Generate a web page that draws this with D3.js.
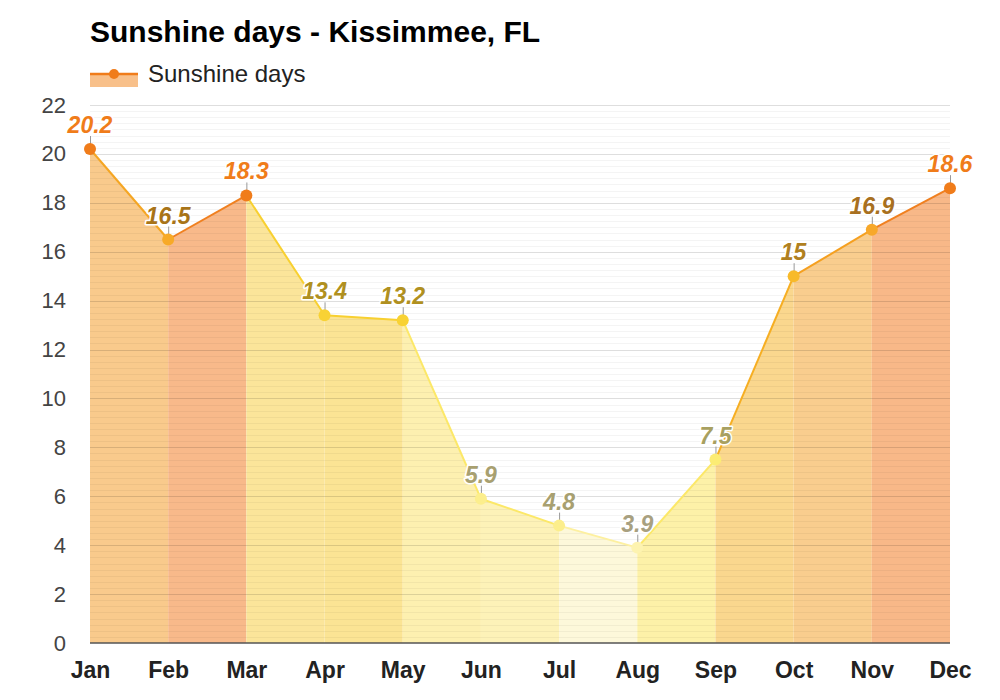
<!DOCTYPE html>
<html>
<head>
<meta charset="utf-8">
<script src="https://cdn.jsdelivr.net/npm/d3@7/dist/d3.min.js"></script>
<style>
  html, body { margin: 0; padding: 0; background: #ffffff; }
  svg { display: block; font-family: "Liberation Sans", Arial, sans-serif; }
</style>
</head>
<body>
<svg id="chart" width="1000" height="700"></svg>
<script>
// ---- data ----
const months = ["Jan","Feb","Mar","Apr","May","Jun","Jul","Aug","Sep","Oct","Nov","Dec"];
const sunshineDays = [20.2, 16.5, 18.3, 13.4, 13.2, 5.9, 4.8, 3.9, 7.5, 15, 16.9, 18.6];
const yTicks = [0, 2, 4, 6, 8, 10, 12, 14, 16, 18, 20, 22];

// ---- styles (per month palettes) ----
const pointColors = ["#f07c1a","#f7aa28","#f07c1a","#f8d234","#f8d234","#fcee8c","#fcee8c","#fdf3b0","#fcec74","#f8ba2a","#f7a82a","#f07c1a"];
const lineColors  = ["#f07c1a","#f5a623","#f08020","#f8d030","#f8d030","#fce868","#fce868","#fdf0a0","#fce868","#f6ae22","#f5a020","#f08020"];
const fillColors  = ["#f9cc8c","#f9ca8c","#f8b98a","#fbe59a","#fbe494","#fdf0b0","#fdf2b8","#fdf8da","#fdf1a8","#fad78e","#f9cd8e","#f8b888"];
const labelColors = ["#f07c1a","#a87418","#f07c1a","#b09020","#b09020","#a8a070","#a8a070","#a8a080","#a8a060","#b08020","#a87020","#f07c1a"];

const svg = d3.select("#chart");
const x = d3.scalePoint().domain(months).range([90, 950]);
const y = d3.scaleLinear().domain([0, 22]).range([643, 105]);

// title
svg.append("text").attr("x", 90).attr("y", 42)
  .attr("font-size", 30).attr("font-weight", "bold").attr("fill", "#000")
  .text("Sunshine days - Kissimmee, FL");

// legend
const lg = svg.append("g");
lg.append("rect").attr("x", 90).attr("y", 74).attr("width", 48).attr("height", 13).attr("fill", "#f8c08a");
lg.append("line").attr("x1", 90).attr("x2", 138).attr("y1", 74).attr("y2", 74).attr("stroke", "#f07c1a").attr("stroke-width", 2.5);
lg.append("circle").attr("cx", 114).attr("cy", 74).attr("r", 5).attr("fill", "#f07c1a");
lg.append("text").attr("x", 148).attr("y", 82).attr("font-size", 24).attr("fill", "#222").text("Sunshine days");

// fills per segment
const area = d3.area().x(d => x(d.m)).y0(y(0)).y1(d => y(d.v));
const pts = months.map((m, i) => ({ m, v: sunshineDays[i], i }));
for (let i = 0; i < pts.length - 1; i++) {
  svg.append("path").datum([pts[i], pts[i + 1]])
    .attr("d", area).attr("fill", fillColors[i + 1]);
}

// gridlines (minor every 0.25, major every 2)
const minor = d3.range(0, 22.001, 0.25).filter(v => Math.abs(v % 2) > 1e-6);
svg.append("g").selectAll("line").data(minor).join("line")
  .attr("x1", 90).attr("x2", 950)
  .attr("y1", d => Math.round(y(d)) + 0.5).attr("y2", d => Math.round(y(d)) + 0.5)
  .attr("stroke", "rgba(0,0,0,0.045)").attr("stroke-width", 1);
svg.append("g").selectAll("line").data(yTicks.filter(v => v > 0)).join("line")
  .attr("x1", 90).attr("x2", 950)
  .attr("y1", d => Math.round(y(d)) + 0.5).attr("y2", d => Math.round(y(d)) + 0.5)
  .attr("stroke", "rgba(0,0,0,0.13)").attr("stroke-width", 1);

// y axis labels
const yAxis = d3.axisLeft(y).tickValues(yTicks).tickSize(0).tickPadding(0).tickFormat(d3.format("d"));
const ya = svg.append("g").attr("transform", "translate(66,0)").call(yAxis);
ya.select(".domain").remove();
ya.selectAll("text").attr("font-size", 22).attr("fill", "#444").attr("font-family", "Liberation Sans, Arial, sans-serif");

// x axis
const xAxis = d3.axisBottom(x).tickSize(0).tickPadding(0);
const xa = svg.append("g").attr("transform", "translate(0,643)").call(xAxis);
xa.select(".domain").attr("stroke", "#555").attr("stroke-width", 1.5).attr("d", "M90,0H950");
xa.selectAll("text").attr("y", 35).attr("dy", 0).attr("font-size", 23).attr("font-weight", "bold")
  .attr("fill", "#222").attr("font-family", "Liberation Sans, Arial, sans-serif");

// line segments
const line = d3.line().x(d => x(d.m)).y(d => y(d.v));
for (let i = 0; i < pts.length - 1; i++) {
  svg.append("path").datum([pts[i], pts[i + 1]])
    .attr("d", line).attr("fill", "none")
    .attr("stroke", lineColors[i + 1]).attr("stroke-width", 2);
}

// label ticks
svg.append("g").selectAll("line").data(pts).join("line")
  .attr("x1", d => x(d.m) + 0.5).attr("x2", d => x(d.m) + 0.5)
  .attr("y1", d => y(d.v) - 13).attr("y2", d => y(d.v) - 3)
  .attr("stroke", "#999").attr("stroke-width", 1);

// points
svg.append("g").selectAll("circle").data(pts).join("circle")
  .attr("cx", d => x(d.m)).attr("cy", d => y(d.v)).attr("r", 6)
  .attr("fill", d => pointColors[d.i]);

// value labels
svg.append("g").selectAll("text").data(pts).join("text")
  .attr("x", d => x(d.m)).attr("y", d => y(d.v) - 16)
  .attr("text-anchor", "middle")
  .attr("font-size", 23).attr("font-weight", "bold").attr("font-style", "italic")
  .attr("fill", d => labelColors[d.i])
  .attr("stroke", "#fff").attr("stroke-width", 3).attr("paint-order", "stroke")
  .attr("stroke-linejoin", "round")
  .text(d => d.v);
</script>
</body>
</html>
